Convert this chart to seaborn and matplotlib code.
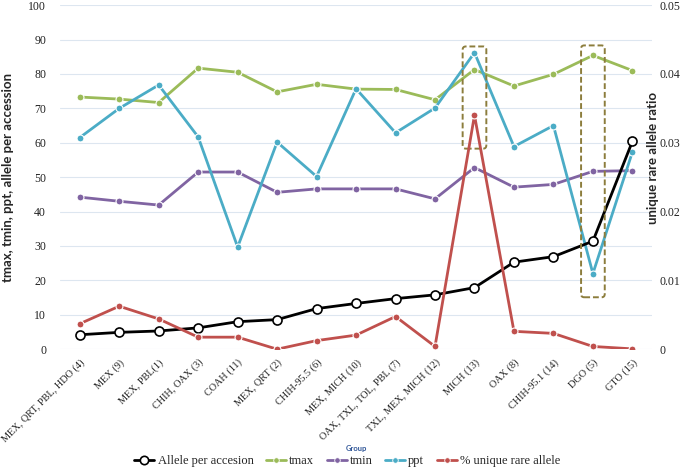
import numpy as np
import pandas as pd
import seaborn as sns
import matplotlib.pyplot as plt
from matplotlib.patches import FancyBboxPatch
from matplotlib.lines import Line2D

groups = ["MEX, QRT, PBL, HDO (4)", "MEX (9)", "MEX, PBL(1)", "CHIH, OAX (3)",
          "COAH (11)", "MEX, QRT (2)", "CHIH-95.5 (6)", "MEX, MICH (10)",
          "OAX, TXL, TOL, PBL (7)", "TXL, MEX, MICH (12)", "MICH (13)", "OAX (8)",
          "CHIH-95.1 (14)", "DGO (5)", "GTO (15)"]
allele = [4.2, 4.9, 5.3, 6.2, 8.0, 8.6, 11.8, 13.3, 14.7, 15.8, 17.9, 25.3, 26.9, 31.4, 60.4]
tmax = [73.3, 72.7, 71.7, 81.7, 80.5, 74.8, 77.0, 75.6, 75.5, 72.5, 81.3, 76.5, 79.9, 85.4, 81.0]
tmin = [44.2, 43.0, 41.9, 51.5, 51.5, 45.6, 46.6, 46.6, 46.6, 43.7, 52.8, 47.1, 47.9, 51.7, 51.9]
ppt = [61.5, 70.0, 76.8, 61.7, 29.7, 60.2, 50.2, 75.7, 62.9, 70.1, 86.2, 58.9, 65.0, 22.0, 57.3]
rare = [0.0037, 0.00625, 0.0044, 0.00175, 0.00175, 0.0, 0.00125, 0.00205,
        0.00475, 0.0004, 0.034, 0.0026, 0.0023, 0.0004, 0.00005]

serif = "Liberation Serif"
sans = "Lato"

sns.set_theme(style="white")
plt.rcParams["font.family"] = [serif, "DejaVu Serif"]

df = pd.DataFrame({"x": np.arange(len(groups)), "allele": allele, "tmax": tmax,
                   "tmin": tmin, "ppt": ppt, "rare": rare})

fig = plt.figure(figsize=(6.85, 4.7), dpi=100)
ax = fig.add_axes([0.0876, 0.257, 0.8644, 0.732])
ax2 = ax.twinx()

styles = {
    "tmax": "#9BBB59",
    "tmin": "#8064A2",
    "ppt": "#4BACC6",
}
for col, c in styles.items():
    sns.lineplot(data=df, x="x", y=col, ax=ax, color=c, lw=2, marker="o",
                 markersize=5, markeredgecolor="white", markeredgewidth=0.8, zorder=3)
sns.lineplot(data=df, x="x", y="allele", ax=ax, color="black", lw=2, marker="o",
             markersize=6.5, markerfacecolor="white", markeredgecolor="black",
             markeredgewidth=1.2, zorder=4)
sns.lineplot(data=df, x="x", y="rare", ax=ax2, color="#C0504D", lw=2, marker="o",
             markersize=5, markeredgecolor="white", markeredgewidth=0.8, zorder=3)

ax.set_xlim(-0.5, len(groups) - 0.5)
ax.set_ylim(0, 100)
ax.set_yticks(range(0, 101, 10))
ax2.set_ylim(0, 0.05)
ax2.set_yticks([0, 0.01, 0.02, 0.03, 0.04, 0.05])
ax2.set_yticklabels(["0", "0.01", "0.02", "0.03", "0.04", "0.05"])
ax.grid(axis="y", color="#dde6f0", lw=0.8)
ax.set_axisbelow(True)
for a in (ax, ax2):
    for s in a.spines.values():
        s.set_visible(False)
    a.tick_params(length=0, labelsize=8.5, colors="#222222")
ax.tick_params(axis="y", pad=10)
ax2.tick_params(axis="y", pad=5)

ax.set_xticks(df["x"])
ax.set_xticklabels(groups, rotation=45, ha="right", rotation_mode="anchor", fontsize=7.4)
ax.tick_params(axis="x", pad=6)
ax.set_xlabel("")
ax.set_ylabel("tmax, tmin, ppt, allele per accession", fontsize=9.5,
              fontweight="bold", family=sans)
ax.yaxis.set_label_coords(-0.077, 0.5)
ax2.set_ylabel("")
fig.text(0.953, 0.665, "unique rare allele ratio", rotation=90, ha="center",
         va="center", fontsize=9.5, fontweight="bold", family=sans)

# dashed highlight boxes
for xc, y0, y1 in [(10, 58.3, 88.0), (13, 15.1, 88.3)]:
    box = FancyBboxPatch((xc - 0.3, y0), 0.6, y1 - y0,
                         boxstyle="round,pad=0,rounding_size=0.08",
                         mutation_aspect=12, fill=False, ec="#8c7d3c",
                         lw=1.4, ls=(0, (3, 1.5)), zorder=6)
    ax.add_patch(box)

fig.text(0.52, 0.045, "Group", ha="center", va="center", fontsize=5.5,
         fontweight="bold", color="#2f5597", family=sans)

handles = [
    Line2D([], [], color="black", lw=2, marker="o", markersize=6,
           markerfacecolor="white", markeredgecolor="black", markeredgewidth=1.2),
    Line2D([], [], color="#9BBB59", lw=2, marker="o", markersize=4,
           markeredgecolor="white", markeredgewidth=0.6),
    Line2D([], [], color="#8064A2", lw=2, marker="o", markersize=4,
           markeredgecolor="white", markeredgewidth=0.6),
    Line2D([], [], color="#4BACC6", lw=2, marker="o", markersize=4,
           markeredgecolor="white", markeredgewidth=0.6),
    Line2D([], [], color="#C0504D", lw=2, marker="o", markersize=4,
           markeredgecolor="white", markeredgewidth=0.6),
]
labels = ["Allele per accesion", "tmax", "tmin", "ppt", "% unique rare allele"]
fig.legend(handles, labels, loc="center", bbox_to_anchor=(0.507, 0.019), ncol=5,
           frameon=False, fontsize=9, handlelength=1.6, handletextpad=0.25,
           columnspacing=1.0)

fig.savefig("out.png", dpi=100)
